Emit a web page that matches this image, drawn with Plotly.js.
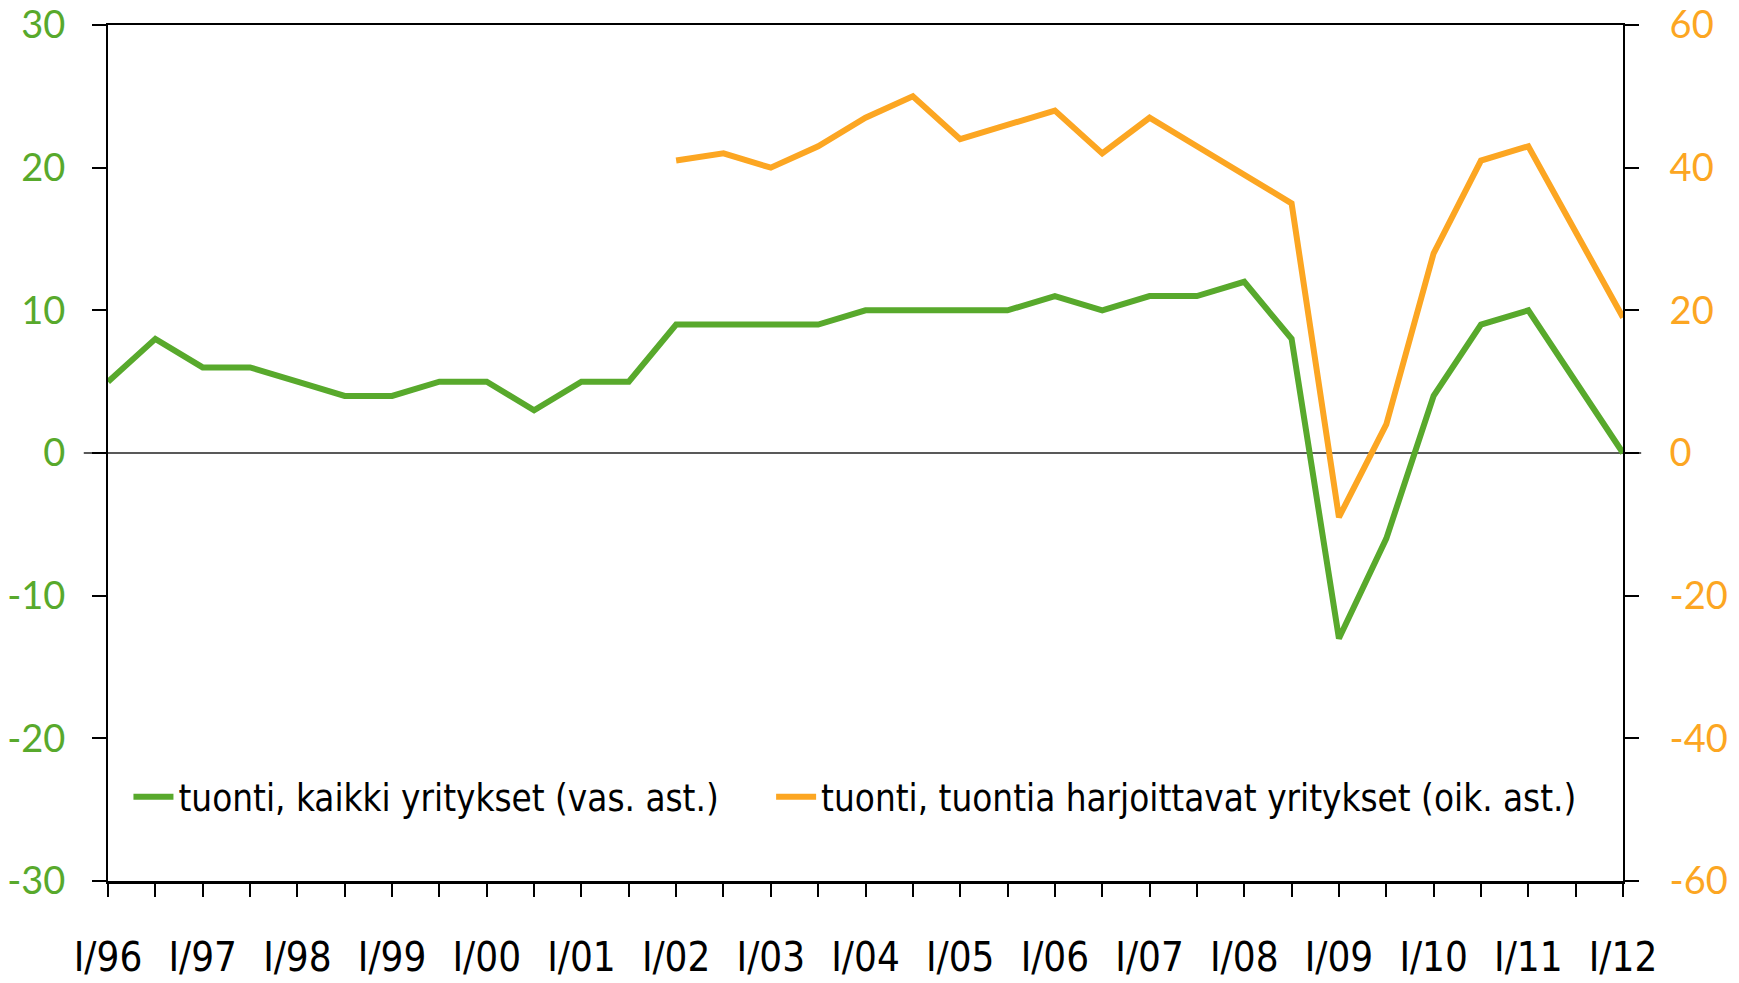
<!DOCTYPE html>
<html>
<head>
<meta charset="utf-8">
<script src="https://cdn.plot.ly/plotly-3.0.1.min.js"></script>
<style>
html,body{margin:0;padding:0;background:#fff;}
#chart{width:1739px;height:983px;}
</style>
</head>
<body>
<div id="chart"></div>
<script>
// Half-year periods I/96 ... I/12
const periods = ["I/96","II/96","I/97","II/97","I/98","II/98","I/99","II/99","I/00","II/00",
  "I/01","II/01","I/02","II/02","I/03","II/03","I/04","II/04","I/05","II/05",
  "I/06","II/06","I/07","II/07","I/08","II/08","I/09","II/09","I/10","II/10",
  "I/11","II/11","I/12"];
const tickLabels = ["I/96","","I/97","","I/98","","I/99","","I/00","",
  "I/01","","I/02","","I/03","","I/04","","I/05","",
  "I/06","","I/07","","I/08","","I/09","","I/10","",
  "I/11","","I/12"];
const leftTickVals = [-30,-20,-10,0,10,20,30];
const leftTickText = ["-30","-20","-10","0","10","20","30"];
const rightTickVals = [-60,-40,-20,0,20,40,60];
const rightTickText = ["-60","-40","-20","0","20","40","60"];
// tuonti, kaikki yritykset (left axis)
const allFirms = [5,8,6,6,5,4,4,5,5,3,5,5,9,9,9,9,10,10,10,10,11,10,11,11,12,8,-13,-6,4,9,10,5,0];
// tuonti, tuontia harjoittavat yritykset (right axis)
const importingFirms = [null,null,null,null,null,null,null,null,null,null,null,null,
  41,42,40,43,47,50,44,46,48,42,47,43,39,35,-9,4,28,41,43,31,19];

const nameAll = "tuonti, kaikki yritykset (vas. ast.)";
const nameImp = "tuonti, tuontia harjoittavat yritykset (oik. ast.)";

const xIdx = periods.map((p,i)=>i);
const green = "#58a92c";
const orange = "#fca622";
const narrow = "'Liberation Sans Narrow', 'DejaVu Sans Condensed', 'Roboto Condensed', Arial Narrow, sans-serif";
const geo = "'Lato', 'DejaVu Sans', sans-serif";

const traces = [
  {x:xIdx, y:allFirms, name:nameAll, type:"scatter", mode:"lines",
   line:{color:green, width:6}, yaxis:"y", hoverinfo:"y", legend:"legend"},
  {x:xIdx, y:importingFirms, name:nameImp, type:"scatter", mode:"lines",
   line:{color:orange, width:6}, yaxis:"y2", connectgaps:false, hoverinfo:"y", legend:"legend2"}
];

const legendFont = {family:narrow, size:36.5, color:"#000"};
const layout = {
  width:1739, height:983,
  margin:{l:107.5, r:115.5, t:24.5, b:101.5},
  paper_bgcolor:"#fff", plot_bgcolor:"#fff",
  showlegend:true,
  legend:{orientation:"h", x:0.0135, y:0.098, xanchor:"left", yanchor:"middle",
    font:legendFont, bgcolor:"rgba(0,0,0,0)", itemwidth:40},
  legend2:{orientation:"h", x:0.4377, y:0.098, xanchor:"left", yanchor:"middle",
    font:legendFont, bgcolor:"rgba(0,0,0,0)", itemwidth:40},
  xaxis:{range:[0,32], tickmode:"array", tickvals:xIdx, ticktext:tickLabels,
    showgrid:false, zeroline:false, showline:true, linecolor:"#000", linewidth:2.5,
    mirror:true, ticks:"outside", ticklen:13, tickwidth:2, tickcolor:"#000",
    tickangle:0, ticklabelstandoff:26,
    tickfont:{family:narrow, size:40, color:"#000"}},
  yaxis:{range:[-30,30], tickmode:"array", tickvals:leftTickVals, ticktext:leftTickText,
    showgrid:false, zeroline:false,
    showline:true, linecolor:"#000", linewidth:2, ticks:"outside", ticklen:14,
    tickwidth:2, tickcolor:"#000", ticklabelstandoff:19,
    tickfont:{family:geo, size:38, color:green}},
  yaxis2:{range:[-60,60], tickmode:"array", tickvals:rightTickVals, ticktext:rightTickText,
    overlaying:"y", side:"right",
    showgrid:false, zeroline:false, showline:true, linecolor:"#000", linewidth:2,
    ticks:"outside", ticklen:14, tickwidth:2, tickcolor:"#000", ticklabelstandoff:23,
    tickfont:{family:geo, size:38, color:orange}},
  shapes:[{type:"line", xref:"paper", yref:"y", x0:-0.016, x1:1.012, y0:0, y1:0,
    line:{color:"#222", width:1.5}, layer:"below"}]
};

Plotly.newPlot("chart", traces, layout, {staticPlot:true, displayModeBar:false});
</script>
</body>
</html>
